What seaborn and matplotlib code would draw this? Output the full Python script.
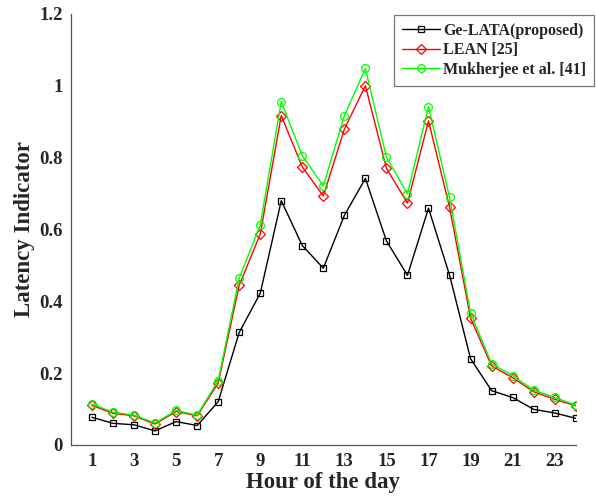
import numpy as np
import pandas as pd
import matplotlib
matplotlib.use("Agg")
import matplotlib.pyplot as plt
import seaborn as sns

hours = list(range(1, 25))
ge_lata = [0.077, 0.060, 0.056, 0.039, 0.065, 0.054, 0.120, 0.313, 0.422, 0.680,
           0.555, 0.492, 0.639, 0.742, 0.568, 0.472, 0.659, 0.473, 0.240, 0.151,
           0.132, 0.099, 0.089, 0.074]
lean = [0.110, 0.088, 0.081, 0.058, 0.093, 0.081, 0.172, 0.444, 0.587, 0.917,
        0.774, 0.693, 0.879, 1.000, 0.770, 0.673, 0.902, 0.662, 0.353, 0.220,
        0.187, 0.148, 0.127, 0.109]
mukherjee = [0.114, 0.091, 0.083, 0.061, 0.096, 0.083, 0.179, 0.464, 0.612, 0.956,
             0.805, 0.721, 0.917, 1.048, 0.801, 0.699, 0.942, 0.689, 0.367, 0.226,
             0.193, 0.153, 0.132, 0.111]
series_names = ["Ge-LATA(proposed)", "LEAN [25]", "Mukherjee et al. [41]"]
colors = ["#000000", "#ff0000", "#00ff00"]
markers = ["s", "D", "o"]
xticks = list(range(1, 24, 2))
yticks = [0, 0.2, 0.4, 0.6, 0.8, 1.0, 1.2]
ytick_labels = ["0", "0.2", "0.4", "0.6", "0.8", "1", "1.2"]

sns.set_style("white")
plt.rcParams["font.family"] = ["Liberation Serif", "DejaVu Serif"]
plt.rcParams["font.weight"] = "bold"

fig = plt.figure(figsize=(5.96, 4.96), dpi=100)
ax = fig.add_axes([0.119, 0.103, 0.847, 0.869])

df = pd.DataFrame({"hour": hours * 3,
                   "value": ge_lata + lean + mukherjee,
                   "series": sum([[n] * len(hours) for n in series_names], [])})

msizes = {"s": 4.6, "D": 4.8, "o": 5.6}
for name, c, m in zip(series_names, colors, markers):
    sub = df[df["series"] == name]
    sns.lineplot(data=sub, x="hour", y="value", ax=ax, color=c, marker=m,
                 markersize=msizes[m], markerfacecolor="none",
                 markeredgecolor=c, markeredgewidth=0.9, linewidth=1.0,
                 label=name, zorder=3)

ax.set_xlim(0, 24)
ax.set_ylim(0, 1.2)
ax.set_xticks(xticks)
ax.set_xticklabels([str(t) for t in xticks], fontsize=13.5, fontweight="bold")
ax.set_yticks(yticks)
ax.set_yticklabels(ytick_labels, fontsize=13.5, fontweight="bold")
ax.tick_params(direction="in", length=4, width=0.8, color="#555555", pad=6)
for s in ["top", "right"]:
    ax.spines[s].set_visible(False)
for s in ["left", "bottom"]:
    ax.spines[s].set_color("#555555")
    ax.spines[s].set_linewidth(0.9)

ax.set_xlabel("Hour of the day", fontsize=16.5, fontweight="bold", labelpad=1)
ax.set_ylabel("Latency Indicator", fontsize=16.5, fontweight="bold", labelpad=3)

leg = ax.legend(loc="upper right", bbox_to_anchor=(0.997, 0.970),
                bbox_transform=fig.transFigure,
                prop={"weight": "bold", "size": 11.5}, frameon=True,
                fancybox=False, handlelength=2.4, handletextpad=0.2,
                borderpad=0.5, labelspacing=0.22, borderaxespad=0)
leg.get_frame().set_edgecolor("#555555")
leg.get_frame().set_linewidth(0.9)

fig.savefig("out.png", dpi=100)
